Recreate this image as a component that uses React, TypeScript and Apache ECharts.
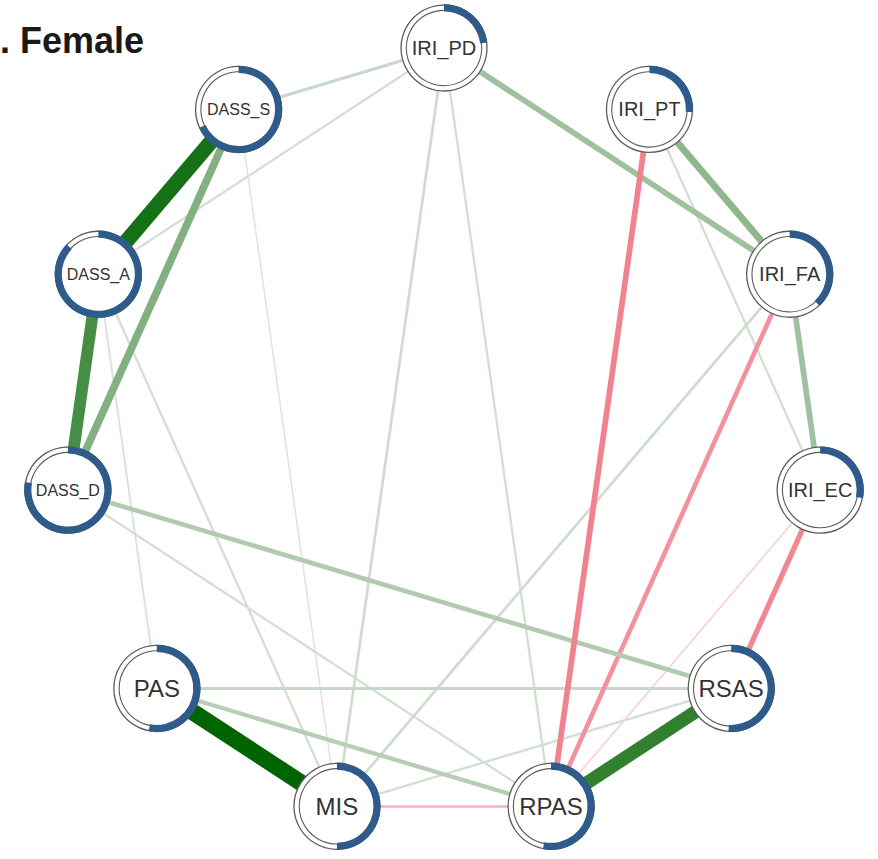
import { useEffect, useRef } from "react";
import * as echarts from "echarts";

// Nodes in circle-layout order (clockwise from the top)
const nodeNames = [
  "IRI_PD",
  "IRI_PT",
  "IRI_FA",
  "IRI_EC",
  "RSAS",
  "RPAS",
  "MIS",
  "PAS",
  "DASS_D",
  "DASS_A",
  "DASS_S",
];

// Node predictability (share of the ring filled in blue)
const predictability = [0.23, 0.26, 0.38, 0.28, 0.51, 0.53, 0.5, 0.53, 0.78, 0.87, 0.68];

// Partial-correlation edges: [from, to, weight]
const edges: [string, string, number][] = [
  ["PAS", "MIS", 0.42],
  ["DASS_S", "DASS_A", 0.38],
  ["RPAS", "RSAS", 0.33],
  ["DASS_A", "DASS_D", 0.29],
  ["DASS_S", "DASS_D", 0.18],
  ["IRI_PT", "IRI_FA", 0.16],
  ["IRI_PD", "IRI_FA", 0.13],
  ["IRI_FA", "IRI_EC", 0.13],
  ["IRI_PT", "RPAS", -0.13],
  ["IRI_EC", "RSAS", -0.12],
  ["IRI_FA", "RPAS", -0.1],
  ["DASS_D", "RSAS", 0.1],
  ["PAS", "RPAS", 0.09],
  ["PAS", "RSAS", 0.06],
  ["IRI_PD", "DASS_S", 0.06],
  ["MIS", "RPAS", -0.05],
  ["IRI_FA", "MIS", 0.05],
  ["IRI_PD", "DASS_A", 0.04],
  ["IRI_PD", "MIS", 0.05],
  ["IRI_PD", "RPAS", 0.04],
  ["DASS_A", "MIS", 0.04],
  ["DASS_D", "RPAS", 0.04],
  ["IRI_PT", "IRI_EC", 0.04],
  ["RSAS", "MIS", 0.04],
  ["DASS_A", "PAS", 0.03],
  ["DASS_S", "MIS", 0.02],
  ["IRI_EC", "RPAS", -0.02],
];

const titleText = ". Female";

const maxWeight = Math.max(...edges.map((e) => Math.abs(e[2])));

function mix(a: number[], b: number[], f: number) {
  const c = a.map((v, i) => Math.round(v * f + b[i] * (1 - f)));
  return `rgb(${c[0]},${c[1]},${c[2]})`;
}

// Edge colour fades from a pale tone toward full green/red with strength
function edgeColor(w: number) {
  const t = Math.abs(w) / maxWeight;
  if (w >= 0) return mix([0, 100, 0], [236, 238, 236], Math.pow(t, 0.95));
  return mix([230, 30, 55], [255, 255, 255], Math.pow(t, 0.5));
}

function edgeWidth(w: number) {
  return 0.8 + Math.abs(w) * 38;
}

function labelSize(name: string) {
  if (name.length <= 4) return 24;
  if (name.startsWith("DASS")) return 16;
  return 20;
}

// Circle layout position for node i
function layoutPos(i: number) {
  const a = (i * 2 * Math.PI) / nodeNames.length;
  return [Math.sin(a), Math.cos(a)];
}

export default function App() {
  const ref = useRef<HTMLDivElement>(null);

  useEffect(() => {
    if (!ref.current) return;
    const chart = echarts.init(ref.current, null, { renderer: "svg" });

    const links = [...edges]
      .sort((a, b) => Math.abs(a[2]) - Math.abs(b[2]))
      .map(([s, t, w]) => ({
        source: s,
        target: t,
        value: w,
        lineStyle: { width: edgeWidth(w), color: edgeColor(w), opacity: 1, curveness: 0 },
      }));

    const R = 43;
    const R0 = 36.5;

    chart.setOption({
      animation: false,
      backgroundColor: "#ffffff",
      title: {
        text: titleText,
        left: 0,
        top: 22,
        padding: 0,
        textStyle: {
          fontSize: 36,
          fontWeight: "bold",
          fontFamily: "Liberation Sans",
          color: "#1a1a1a",
        },
      },
      grid: { left: 64, top: 48, width: 760, height: 774, containLabel: false },
      xAxis: { type: "value", min: -1, max: 1, show: false },
      yAxis: { type: "value", min: -1, max: 1, show: false },
      series: [
        {
          type: "graph",
          coordinateSystem: "cartesian2d",
          silent: true,
          z: 2,
          symbol: "circle",
          symbolSize: 2,
          itemStyle: { opacity: 0 },
          label: { show: false },
          emphasis: { disabled: true },
          data: nodeNames.map((n, i) => ({ name: n, value: layoutPos(i) })),
          links,
        },
        {
          type: "custom",
          coordinateSystem: "cartesian2d",
          silent: true,
          z: 3,
          data: nodeNames.map((n, i) => [...layoutPos(i), predictability[i], i]),
          renderItem: (params: any, api: any) => {
            const [cx, cy] = api.coord([api.value(0), api.value(1)]);
            const p = api.value(2);
            const name = nodeNames[api.value(3)];
            return {
              type: "group",
              children: [
                {
                  type: "circle",
                  shape: { cx, cy, r: R },
                  style: { fill: "#ffffff", stroke: "#5c5c5c", lineWidth: 1.3 },
                },
                {
                  type: "circle",
                  shape: { cx, cy, r: R0 + 1.2 },
                  style: { fill: "none", stroke: "#5c5c5c", lineWidth: 1.1 },
                },
                {
                  type: "sector",
                  shape: {
                    cx,
                    cy,
                    r0: R0,
                    r: R + 0.7,
                    startAngle: -Math.PI / 2,
                    endAngle: -Math.PI / 2 + 2 * Math.PI * p,
                    clockwise: true,
                  },
                  style: { fill: "#2e5b8a" },
                },
                {
                  type: "text",
                  x: cx,
                  y: cy,
                  style: {
                    text: name,
                    textAlign: "center",
                    textVerticalAlign: "middle",
                    fontSize: labelSize(name),
                    fontFamily: "Liberation Sans",
                    fill: "#333333",
                  },
                },
              ],
            };
          },
        },
      ],
    });

    return () => chart.dispose();
  }, []);

  return (
    <div
      ref={ref}
      style={{ position: "absolute", left: 0, top: 0, width: 878, height: 859 }}
    />
  );
}
